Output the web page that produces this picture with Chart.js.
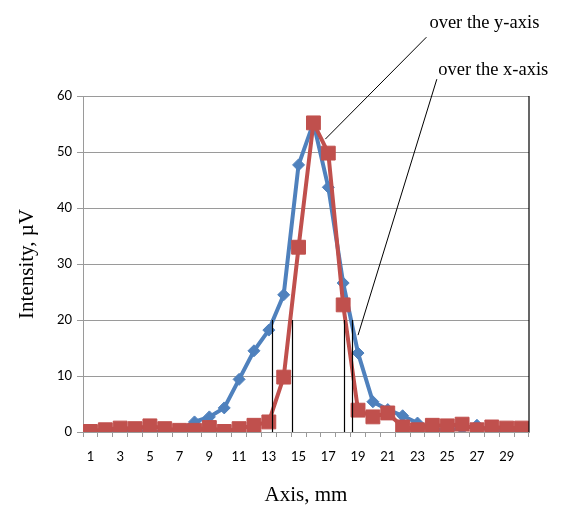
<!DOCTYPE html>
<html>
<head>
<meta charset="utf-8">
<script src="https://cdn.jsdelivr.net/npm/chart.js@4/dist/chart.umd.min.js"></script>
<style>
  html, body { margin: 0; padding: 0; background: #ffffff; }
  #wrap { width: 566px; height: 510px; position: relative; }
</style>
</head>
<body>
<div id="wrap"><canvas id="chart"></canvas></div>
<script>
// Data
const positions = Array.from({ length: 30 }, (_, i) => String(i + 1));
const overX = [0.3, 0.2, 0.3, 0.2, 0.1, 0, 0.3, 1.8, 2.7, 4.3, 9.4, 14.5, 18.2, 24.5, 47.7,
               55.2, 43.7, 26.6, 14.1, 5.4, 4.0, 2.9, 1.6, 0.5, 0.4, 0.6, 1.2, 0.1, 0.3, 0.2];
const overY = [0.1, 0.4, 0.7, 0.6, 1.1, 0.6, 0.3, 0.3, 0.8, 0.1, 0.6, 1.2, 1.8, 9.8, 33.0,
               55.2, 49.8, 22.7, 3.9, 2.7, 3.4, 0.9, 0.4, 1.2, 1.1, 1.4, 0.4, 0.9, 0.7, 0.7];
const yTicks = [0, 10, 20, 30, 40, 50, 60];

// width markers (position, height) and callout lines
const markers = [[13.2, 20], [14.56, 20], [18.05, 20], [18.6, 20]];
const callouts = [
    { text: 'over the y-axis', at: [23.8, 73.0], from: [23.6, 70.5], to: [16.8, 52.3] },
    { text: 'over the x-axis', at: [24.4, 64.6], from: [24.3, 63.0], to: [19.0, 17.3] }
];

// category positions are 1-based, the scale is 0-based
const px = (scale, v) => scale.getPixelForValue(v - 1);

const extras = {
    id: 'extras',
    afterDatasetsDraw(chart) {
        const { ctx, chartArea, scales: { x, y } } = chart;
        ctx.save();
        // right edge of the plot
        ctx.strokeStyle = '#000000';
        ctx.lineWidth = 1.2;
        ctx.beginPath();
        ctx.moveTo(chartArea.right, chartArea.top);
        ctx.lineTo(chartArea.right, chartArea.bottom);
        ctx.stroke();

        markers.forEach(([pos, h]) => {
            const xp = Math.round(px(x, pos)) + 0.5;
            ctx.beginPath();
            ctx.moveTo(xp, y.getPixelForValue(h));
            ctx.lineTo(xp, y.getPixelForValue(0));
            ctx.stroke();
        });

        ctx.lineWidth = 1;
        ctx.font = '18.5px "Liberation Serif"';
        ctx.fillStyle = '#000000';
        ctx.textBaseline = 'middle';
        callouts.forEach(c => {
            ctx.beginPath();
            ctx.moveTo(px(x, c.from[0]), y.getPixelForValue(c.from[1]));
            ctx.lineTo(px(x, c.to[0]), y.getPixelForValue(c.to[1]));
            ctx.stroke();
            ctx.fillText(c.text, px(x, c.at[0]), y.getPixelForValue(c.at[1]));
        });
        ctx.restore();
    }
};

new Chart(document.getElementById('chart'), {
    type: 'line',
    data: {
        labels: positions,
        datasets: [{
            label: 'over the y-axis',
            data: overY,
            borderColor: '#c0504d',
            backgroundColor: '#c0504d',
            borderWidth: 4,
            pointStyle: 'rect',
            pointRadius: 9.8,
            pointBorderWidth: 1,
            tension: 0
        }, {
            label: 'over the x-axis',
            data: overX,
            borderColor: '#4f81bd',
            backgroundColor: '#4f81bd',
            borderWidth: 4,
            pointStyle: 'rectRot',
            pointRadius: 6,
            pointBorderWidth: 1,
            tension: 0
        }]
    },
    options: {
        responsive: true,
        maintainAspectRatio: false,
        animation: false,
        layout: { padding: { top: 96, right: 37, left: 0, bottom: 0 } },
        plugins: {
            legend: { display: false },
            tooltip: { enabled: false }
        },
        scales: {
            x: {
                type: 'category',
                offset: true,
                afterFit: scale => { scale.height = 78; },
                grid: {
                    offset: true,
                    drawOnChartArea: false,
                    color: '#9a9a9a',
                    tickLength: 5
                },
                border: { color: '#9a9a9a' },
                ticks: {
                    autoSkip: false,
                    maxRotation: 0,
                    padding: 12,
                    color: '#000000',
                    font: { family: 'Lato', size: 13 },
                    callback: (v, i) => (i % 2 === 0 ? positions[i] : '')
                },
                title: {
                    display: true,
                    text: 'Axis, mm',
                    color: '#000000',
                    font: { family: 'Liberation Serif', size: 21 },
                    padding: { top: 0, bottom: 2 }
                }
            },
            y: {
                min: 0,
                max: 60,
                afterFit: scale => { scale.width = 83; },
                afterBuildTicks: scale => { scale.ticks = yTicks.map(v => ({ value: v })); },
                grid: { color: '#9a9a9a', tickLength: 6 },
                border: { color: '#9a9a9a' },
                ticks: {
                    padding: 5,
                    color: '#000000',
                    font: { family: 'Lato', size: 13 }
                },
                title: {
                    display: true,
                    text: 'Intensity, µV',
                    color: '#000000',
                    font: { family: 'Liberation Serif', size: 21 },
                    padding: { top: 15, bottom: 0 }
                }
            }
        }
    },
    plugins: [extras]
});
</script>
</body>
</html>
